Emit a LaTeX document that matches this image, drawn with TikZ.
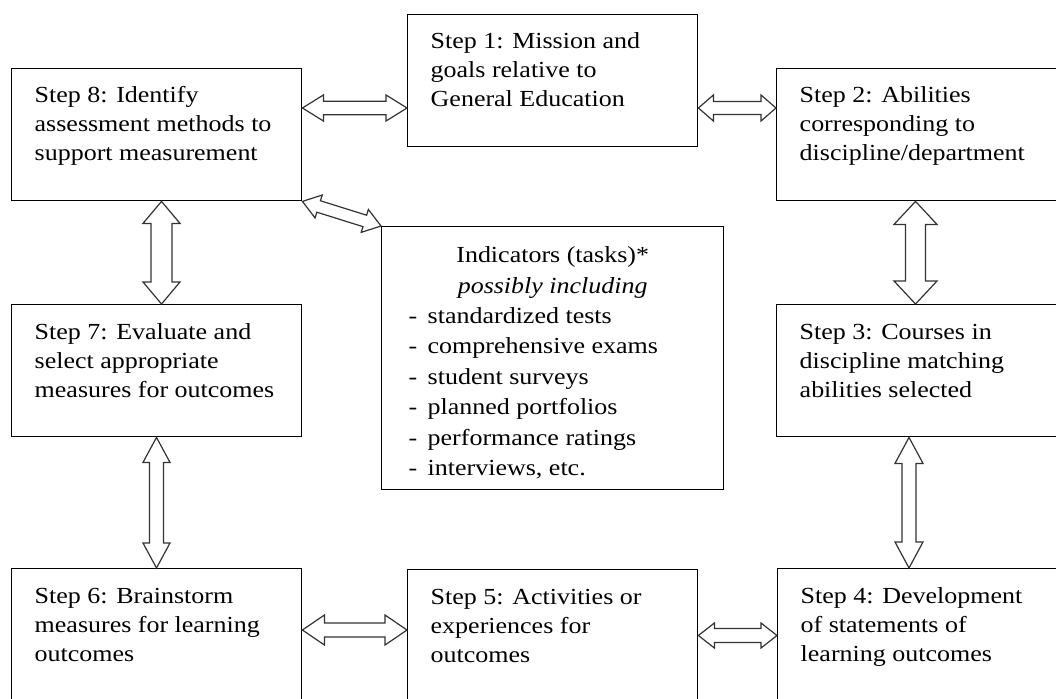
\documentclass[tikz,border=0pt]{standalone}
\usepackage{fontspec}
\setmainfont{Liberation Serif}[FakeStretch=1.13]
\usetikzlibrary{calc}
\newcommand\bt[1]{\parbox[t][104pt][t]{244pt}{\raggedright\strut#1}}
\newcommand\itm[1]{\makebox[19pt][l]{-}#1}
\tikzset{
  box/.style={draw=black, line width=1.4pt, rectangle, anchor=north west,
    inner xsep=23pt, inner ysep=14pt, font=\fontsize{23}{29}\selectfont, text=black},
  fat/.style args={#1/#2/#3}{draw=black!80, line width=1.2pt, fill=white, line join=miter,
    to path={(\tikztostart)
      -- ($(\tikztostart)!#3!(\tikztotarget)!#2!90:(\tikztotarget)$)
      -- ($(\tikztostart)!#3!(\tikztotarget)!#1!90:(\tikztotarget)$)
      -- ($(\tikztotarget)!#3!(\tikztostart)!#1!-90:(\tikztostart)$)
      -- ($(\tikztotarget)!#3!(\tikztostart)!#2!-90:(\tikztostart)$)
      -- (\tikztotarget)
      -- ($(\tikztotarget)!#3!(\tikztostart)!#2!90:(\tikztostart)$)
      -- ($(\tikztotarget)!#3!(\tikztostart)!#1!90:(\tikztostart)$)
      -- ($(\tikztostart)!#3!(\tikztotarget)!#1!-90:(\tikztotarget)$)
      -- ($(\tikztostart)!#3!(\tikztotarget)!#2!-90:(\tikztotarget)$)
      -- cycle}}
}
\begin{document}
\begin{tikzpicture}[x=1pt,y=-1pt]
\useasboundingbox (0,0) rectangle (1056,698);
\clip (0,0) rectangle (1056,698);
\fill[white] (0,0) rectangle (1056,698);

\node[box] (b1) at (407,14) {\bt{Step 1: Mission and\\goals relative to\\General Education}};
\node[box] (b2) at (776,68) {\bt{Step 2: Abilities\\corresponding to\\discipline/department}};
\node[box] (b3) at (776,304) {\bt{Step 3: Courses in\\discipline matching\\abilities selected}};
\node[box] (b4) at (777,568) {\bt{Step 4: Development\\of statements of\\learning outcomes}};
\node[box] (b5) at (407,569) {\bt{Step 5: Activities or\\experiences for\\outcomes}};
\node[box] (b6) at (11,568) {\bt{Step 6: Brainstorm\\measures for learning\\outcomes}};
\node[box] (b7) at (11,304) {\bt{Step 7: Evaluate and\\select appropriate\\measures for outcomes}};
\node[box] (b8) at (11,68) {\bt{Step 8: Identify\\assessment methods to\\support measurement}};
\node[box, inner xsep=27pt, inner ysep=14.7pt, font=\fontsize{23}{30.4}\selectfont] (ind) at (381,226)
  {\parbox[t][233.6pt][t]{288pt}{\centering\strut Indicators (tasks)*\\\textit{possibly including}\par
   \raggedright\itm{standardized tests}\\\itm{comprehensive exams}\\\itm{student surveys}\\
   \itm{planned portfolios}\\\itm{performance ratings}\\\itm{interviews, etc.}}};

\coordinate (y108) at (0,108);
\coordinate (y630) at (0,630);
\coordinate (y635) at (0,635.5);
\coordinate (x915) at (915.5,0);
\coordinate (x909) at (909,0);
\coordinate (x161) at (161.5,0);
\coordinate (x156) at (156.5,0);

\coordinate (a81) at (b8.east |- y108);
\coordinate (a18) at (b1.west |- y108);
\coordinate (a12) at (b1.east |- y108);
\coordinate (a21) at (b2.west |- y108);
\coordinate (a23) at (b2.south -| x915);
\coordinate (a32) at (b3.north -| x915);
\coordinate (a34) at (b3.south -| x909);
\coordinate (a43) at (b4.north -| x909);
\coordinate (a87) at (b8.south -| x161);
\coordinate (a78) at (b7.north -| x161);
\coordinate (a76) at (b7.south -| x156);
\coordinate (a67) at (b6.north -| x156);
\coordinate (a65) at (b6.east |- y630);
\coordinate (a56) at (b5.west |- y630);
\coordinate (a54) at (b5.east |- y635);
\coordinate (a45) at (b4.west |- y635);

\draw[fat=6.7pt/13pt/21pt] (a81) to (a18);
\draw[fat=6.5pt/13pt/15pt] (a12) to (a21);
\draw[fat=10pt/21.5pt/23pt] (a23) to (a32);
\draw[fat=7pt/14pt/26pt] (a34) to (a43);
\draw[fat=10.5pt/18.5pt/22pt] (a87) to (a78);
\draw[fat=7pt/13.5pt/25pt] (a76) to (a67);
\draw[fat=7pt/15pt/22pt] (a65) to (a56);
\draw[fat=7pt/12.5pt/16pt] (a54) to (a45);
\draw[fat=6pt/12pt/17pt] (b8.south east) to (ind.north west);
\end{tikzpicture}
\end{document}
